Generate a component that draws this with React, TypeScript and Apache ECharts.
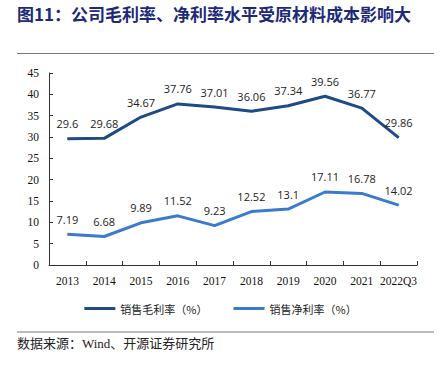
import React, { useEffect, useRef } from "react";
import * as echarts from "echarts";

const categories = ["2013", "2014", "2015", "2016", "2017", "2018", "2019", "2020", "2021", "2022Q3"];
const grossMargin = [29.6, 29.68, 34.67, 37.76, 37.01, 36.06, 37.34, 39.56, 36.77, 29.86];
const netMargin = [7.19, 6.68, 9.89, 11.52, 9.23, 12.52, 13.1, 17.11, 16.78, 14.02];
const seriesNames = ["销售毛利率（%）", "销售净利率（%）"];
const titleText = "图11：公司毛利率、净利率水平受原材料成本影响大";
const sourceText = "数据来源：Wind、开源证券研究所";

export default function App() {
  const ref = useRef<HTMLDivElement>(null);
  useEffect(() => {
    document.body.style.margin = "0";
    if (!ref.current) return;
    const chart = echarts.init(ref.current, null, { renderer: "svg" });
    const labelStyle = {
      show: true,
      position: "top" as const,
      distance: 9,
      fontSize: 11,
      color: "#222",
      fontFamily: "Open Sans, Liberation Sans, sans-serif",
    };
    chart.setOption({
      animation: false,
      backgroundColor: "#fff",
      graphic: [
        {
          type: "text",
          left: 17,
          top: 5,
          style: {
            text: titleText,
            fontSize: 17,
            fontWeight: "bold",
            fill: "#1c2a78",
            fontFamily: "Noto Sans CJK SC, sans-serif",
          },
        },
        {
          type: "line",
          shape: { x1: 17, y1: 53.5, x2: 434, y2: 53.5 },
          style: { stroke: "#777", lineWidth: 1.2 },
        },
        {
          type: "line",
          shape: { x1: 17, y1: 332, x2: 434, y2: 332 },
          style: { stroke: "#777", lineWidth: 1.2 },
        },
        {
          type: "text",
          left: 17,
          top: 337,
          style: {
            text: sourceText,
            fontSize: 13,
            fill: "#222",
            fontFamily: "Liberation Serif, Noto Sans CJK SC, serif",
          },
        },
      ],
      legend: {
        bottom: 58,
        left: "center",
        itemWidth: 31,
        itemHeight: 3,
        itemGap: 26,
        icon: "rect",
        textStyle: {
          fontSize: 11,
          color: "#222",
          fontFamily: "Noto Sans CJK SC, sans-serif",
        },
        data: seriesNames,
      },
      grid: { left: 49, right: 24, top: 73, bottom: 112 },
      xAxis: {
        type: "category",
        data: categories,
        boundaryGap: true,
        axisLine: { lineStyle: { color: "#333", width: 1 } },
        axisTick: { show: true, inside: true, length: 4, lineStyle: { color: "#333" } },
        axisLabel: {
          color: "#111",
          fontSize: 11.5,
          margin: 10,
          fontFamily: "Liberation Serif, serif",
          interval: 0,
        },
      },
      yAxis: {
        type: "value",
        min: 0,
        max: 45,
        interval: 5,
        axisLine: { show: true, lineStyle: { color: "#333", width: 1 } },
        axisTick: { show: true, inside: true, length: 4, lineStyle: { color: "#333" } },
        splitLine: { show: false },
        axisLabel: {
          color: "#111",
          fontSize: 11.5,
          margin: 10,
          fontFamily: "Liberation Serif, serif",
        },
      },
      series: [
        {
          name: seriesNames[0],
          type: "line",
          data: grossMargin,
          symbol: "circle",
          symbolSize: 1,
          showSymbol: true,
          lineStyle: { color: "#1f4a86", width: 3 },
          itemStyle: { color: "#1f4a86" },
          label: labelStyle,
        },
        {
          name: seriesNames[1],
          type: "line",
          data: netMargin,
          symbol: "circle",
          symbolSize: 1,
          showSymbol: true,
          lineStyle: { color: "#3a7bcf", width: 3 },
          itemStyle: { color: "#3a7bcf" },
          label: labelStyle,
        },
      ],
    });
    return () => chart.dispose();
  }, []);
  return <div ref={ref} style={{ width: 441, height: 377 }} />;
}
